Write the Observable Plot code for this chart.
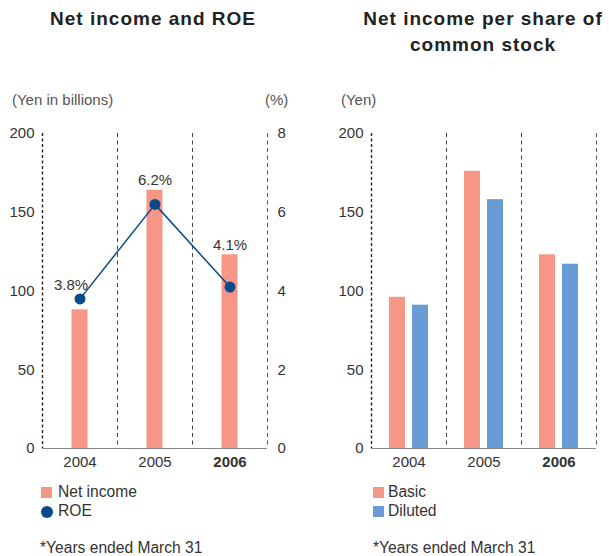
<!DOCTYPE html>
<html>
<head>
<meta charset="utf-8">
<script src="https://cdn.jsdelivr.net/npm/d3@7"></script>
<script src="https://cdn.jsdelivr.net/npm/@observablehq/plot@0.6"></script>
<style>
  body { margin: 0; background: #fff; }
  #wrap { position: relative; width: 609px; height: 556px; overflow: hidden; font-family: "Liberation Sans", Arial, sans-serif; color: #333; }
  .abs { position: absolute; white-space: nowrap; }
  .title { font-weight: bold; font-size: 19px; letter-spacing: 1px; line-height: 26px; text-align: center; color: #222; }
  .unit { font-size: 15px; line-height: 20px; color: #555; }
  .leg { font-size: 15.6px; line-height: 20px; color: #333; }
  .sw { position: absolute; width: 11px; height: 11px; }
  .pl { position: absolute; }
</style>
</head>
<body>
<div id="wrap">
  <div class="abs title" style="left:0;top:6px;width:306px;">Net income and ROE</div>
  <div class="abs title" style="left:333px;top:6px;width:300px;">Net income per share of<br>common stock</div>

  <div class="abs unit" style="left:12px;top:90px;">(Yen in billions)</div>
  <div class="abs unit" style="left:265px;top:90px;">(%)</div>
  <div class="abs unit" style="left:341px;top:90px;">(Yen)</div>

  <div id="left" class="pl" style="left:0;top:85px;"></div>
  <div id="right" class="pl" style="left:305px;top:85px;"></div>

  <div class="sw" id="swNet" style="left:41px;top:487px;"></div>
  <div class="abs leg" style="left:58px;top:482px;">Net income</div>
  <div class="sw" id="swRoe" style="left:41px;top:506px;width:12px;height:12px;border-radius:50%;"></div>
  <div class="abs leg" style="left:58px;top:501px;">ROE</div>
  <div class="abs leg" style="left:40px;top:538px;">*Years ended March 31</div>

  <div class="sw" id="swBasic" style="left:373px;top:487px;"></div>
  <div class="abs leg" style="left:388px;top:482px;">Basic</div>
  <div class="sw" id="swDil" style="left:373px;top:506px;"></div>
  <div class="abs leg" style="left:388px;top:501px;">Diluted</div>
  <div class="abs leg" style="left:373px;top:538px;">*Years ended March 31</div>
</div>
<script>
// ---- data ----
const years = ["2004", "2005", "2006"];
const netIncome = [88, 164, 123];        // Yen in billions
const roe = [3.8, 6.2, 4.1];             // %
const epsBasic = [96, 176, 123];         // Yen
const epsDiluted = [91, 158, 117];       // Yen
const leftTicks = [0, 50, 100, 150, 200];
const roeTicks = [0, 2, 4, 6, 8];

// ---- styles ----
const SALMON = "#f69686";
const BLUE = "#679cd4";
const NAVY = "#0b4a8a";
document.getElementById("swNet").style.background = SALMON;
document.getElementById("swRoe").style.background = NAVY;
document.getElementById("swBasic").style.background = SALMON;
document.getElementById("swDil").style.background = BLUE;

const W = 304, H = 400, FW = 225;
const step = FW / years.length;
const roeScale = 200 / 8;
const FS = 15;

const leftData = years.map((y, i) => ({year: y, income: netIncome[i], roe: roe[i]}));
const perShare = years.flatMap((y, i) => [
  {year: y, type: "Basic", v: epsBasic[i]},
  {year: y, type: "Diluted", v: epsDiluted[i]}
]);

function edgeRules() {
  return [
    Plot.ruleX([years[0]], {dx: -step / 2, stroke: "#222", strokeWidth: 1.4, strokeDasharray: "3,2.5"}),
    Plot.ruleX(years.slice(1), {dx: -step / 2, stroke: "#444", strokeWidth: 1, strokeDasharray: "4,3.5"}),
    Plot.ruleX([years[years.length - 1]], {dx: step / 2, stroke: "#555", strokeWidth: 1, strokeDasharray: "4,3.5"})
  ];
}

function boldLast(svg) {
  svg.querySelectorAll("text").forEach(t => {
    if (t.textContent === "2006") t.setAttribute("font-weight", "bold");
  });
  return svg;
}

const common = {
  width: W, height: H,
  marginTop: 48, marginBottom: 37,
  style: {fontFamily: "Liberation Sans, Arial, sans-serif", fontSize: FS + "px", color: "#333", background: "transparent"},
  x: {domain: years, padding: 0},
  y: {domain: [0, 200]}
};

const left = Plot.plot({
  ...common,
  marginLeft: 42, marginRight: W - 42 - FW,
  marks: [
    ...edgeRules(),
    Plot.barY(leftData, {x: "year", y: "income", fill: SALMON, insetLeft: (step - 16) / 2, insetRight: (step - 16) / 2}),
    Plot.ruleY([0], {stroke: "#888", strokeWidth: 1.2}),
    Plot.line(leftData, {x: "year", y: d => d.roe * roeScale, stroke: NAVY, strokeWidth: 1.5}),
    Plot.dot(leftData, {x: "year", y: d => d.roe * roeScale, r: 5.5, fill: NAVY}),
    Plot.text(leftData.filter(d => d.roe * roeScale > d.income), {x: "year", y: d => d.roe * roeScale, text: d => d.roe.toFixed(1) + "%", dx: -9, dy: -14, fontSize: FS, fill: "#333"}),
    Plot.text(leftData.filter(d => d.roe * roeScale <= d.income), {x: "year", y: "income", text: d => d.roe.toFixed(1) + "%", dy: -10, fontSize: FS, fill: "#333"}),
    Plot.axisY(leftTicks, {anchor: "left", tickSize: 0, tickPadding: 8, label: null, fontSize: FS}),
    Plot.axisY(roeTicks.map(v => v * roeScale), {anchor: "right", tickSize: 0, tickPadding: 10, tickFormat: d => d / roeScale, label: null, fontSize: FS}),
    Plot.axisX({tickSize: 0, tickPadding: 8, label: null, fontSize: FS})
  ]
});
document.getElementById("left").appendChild(boldLast(left));

const right = Plot.plot({
  ...common,
  marginLeft: 66, marginRight: W - 66 - FW,
  marks: [
    ...edgeRules(),
    Plot.barY(perShare.filter(d => d.type === "Basic"), {x: "year", y: "v", fill: SALMON, insetLeft: (step - 16) / 2, insetRight: (step - 16) / 2, dx: -11.5}),
    Plot.barY(perShare.filter(d => d.type === "Diluted"), {x: "year", y: "v", fill: BLUE, insetLeft: (step - 16) / 2, insetRight: (step - 16) / 2, dx: 11.5}),
    Plot.ruleY([0], {stroke: "#888", strokeWidth: 1.2}),
    Plot.axisY(leftTicks, {anchor: "left", tickSize: 0, tickPadding: 8, label: null, fontSize: FS}),
    Plot.axisX({tickSize: 0, tickPadding: 8, label: null, fontSize: FS})
  ]
});
document.getElementById("right").appendChild(boldLast(right));
</script>
</body>
</html>
